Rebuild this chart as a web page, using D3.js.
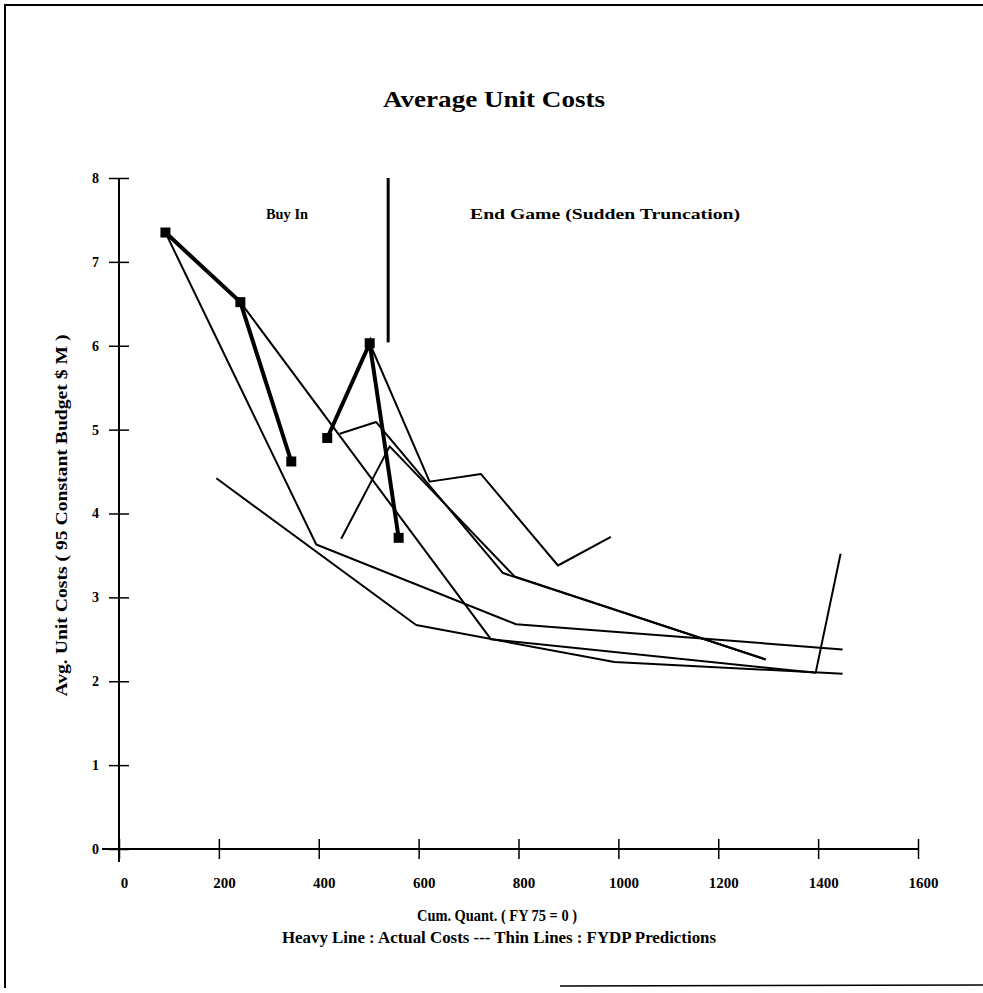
<!DOCTYPE html>
<html>
<head>
<meta charset="utf-8">
<script src="https://cdn.jsdelivr.net/npm/d3@7"></script>
<style>
  body { margin: 0; background: #fff; }
  svg { display: block; }
  text { font-family: "Liberation Serif", "DejaVu Serif", serif; font-weight: bold; fill: #000; }
</style>
</head>
<body>
<svg width="983" height="993"></svg>
<script>
// actual costs (heavy lines), cum. quantity vs avg unit cost
const actualA = [[93, 7.35], [243, 6.52], [345, 4.62]]
const actualB = [[417, 4.90], [502, 6.03], [560, 3.71]]

// FYDP predictions (thin lines)
const fydp1 = [[93, 7.35], [395, 3.63], [795, 2.68], [1449, 2.38]]
const fydp2 = [[93, 7.35], [243, 6.52], [745, 2.50], [1395, 2.10], [1445, 3.52]]
const fydp3 = [[195, 4.42], [595, 2.67], [992, 2.23], [1449, 2.09]]
const fydp4 = [[502, 6.03], [622, 4.38], [725, 4.47], [879, 3.38], [985, 3.72]]
const fydp5 = [[442, 4.95], [515, 5.09], [769, 3.29], [1295, 2.26]]
const fydp6 = [[445, 3.70], [542, 4.80], [792, 3.25], [1295, 2.26]]
const predictions = [fydp1, fydp2, fydp3, fydp4, fydp5, fydp6]

const xTicks = [0, 200, 400, 600, 800, 1000, 1200, 1400, 1600]
const yTicks = [0, 1, 2, 3, 4, 5, 6, 7, 8]
const divider = [[539, 8], [539, 6.04]]

const svg = d3.select("svg")

const x = d3.scaleLinear().domain([0, 1600]).range([119, 918])
const y = d3.scaleLinear().domain([0, 8]).range([849, 178])

// page frame (scanned page edge)
svg.append("path")
    .attr("d", "M5,988 L5,5 L983,5")
    .attr("fill", "none").attr("stroke", "#000").attr("stroke-width", 2)
svg.append("line")
    .attr("x1", 560).attr("x2", 983).attr("y1", 986).attr("y2", 985)
    .attr("stroke", "#000").attr("stroke-width", 1.5)

// title
svg.append("text")
    .attr("x", 494).attr("y", 107)
    .attr("text-anchor", "middle")
    .attr("font-size", 24)
    .attr("textLength", 222)
    .attr("lengthAdjust", "spacingAndGlyphs")
    .text("Average Unit Costs")

// axes
const xAxis = svg.append("g")
    .attr("transform", `translate(0,${y(0)})`)
    .call(d3.axisBottom(x).tickValues(xTicks).tickFormat(d3.format("d")).tickSize(10).tickPadding(18))
xAxis.select(".domain").remove()
xAxis.selectAll(".tick line").attr("y1", -10).attr("y2", 10).attr("stroke-width", 1.5)
xAxis.selectAll(".tick text")
    .attr("dx", 5)
    .attr("font-size", 15)
    .attr("font-family", "Liberation Serif")
    .attr("font-weight", "bold")
xAxis.append("line")
    .attr("x1", x(0) - 17).attr("x2", x(1600))
    .attr("stroke", "#000").attr("stroke-width", 2)

const yAxis = svg.append("g")
    .attr("transform", `translate(${x(0)},0)`)
    .call(d3.axisLeft(y).tickValues(yTicks).tickSize(10).tickPadding(10))
yAxis.select(".domain").remove()
yAxis.selectAll(".tick line").attr("x1", -10).attr("x2", 10).attr("stroke-width", 1.5)
yAxis.selectAll(".tick text")
    .attr("font-size", 14)
    .attr("font-family", "Liberation Serif")
    .attr("font-weight", "bold")
yAxis.append("line")
    .attr("y1", y(8)).attr("y2", y(0) + 13)
    .attr("stroke", "#000").attr("stroke-width", 2)

// axis titles
svg.append("text")
    .attr("transform", `translate(67,${(y(8) + y(0)) / 2 + 2}) rotate(-90)`)
    .attr("text-anchor", "middle")
    .attr("font-size", 16)
    .attr("textLength", 362)
    .attr("lengthAdjust", "spacingAndGlyphs")
    .text("Avg. Unit Costs ( 95 Constant Budget $ M )")

svg.append("text")
    .attr("x", 497).attr("y", 921)
    .attr("text-anchor", "middle")
    .attr("font-size", 16)
    .attr("textLength", 160)
    .attr("lengthAdjust", "spacingAndGlyphs")
    .text("Cum. Quant. ( FY 75 = 0 )")

svg.append("text")
    .attr("x", 499).attr("y", 943)
    .attr("text-anchor", "middle")
    .attr("font-size", 16)
    .attr("textLength", 434)
    .attr("lengthAdjust", "spacingAndGlyphs")
    .text("Heavy Line : Actual Costs --- Thin Lines : FYDP Predictions")

// annotations
svg.append("text")
    .attr("x", 266).attr("y", 219)
    .attr("font-size", 15)
    .attr("textLength", 42)
    .attr("lengthAdjust", "spacingAndGlyphs")
    .text("Buy In")
svg.append("text")
    .attr("x", 470).attr("y", 219)
    .attr("font-size", 15)
    .attr("textLength", 270)
    .attr("lengthAdjust", "spacingAndGlyphs")
    .text("End Game (Sudden Truncation)")

const line = d3.line().x(d => x(d[0])).y(d => y(d[1]))

svg.append("path")
    .datum(divider)
    .attr("d", line)
    .attr("stroke", "#000").attr("stroke-width", 3).attr("fill", "none")

// thin prediction lines
svg.selectAll(".fydp")
    .data(predictions).enter()
    .append("path")
    .attr("class", "fydp")
    .attr("d", line)
    .attr("fill", "none")
    .attr("stroke", "#000")
    .attr("stroke-width", 2)
    .attr("stroke-linejoin", "round")

// heavy actual lines with square markers
const actual = [actualA, actualB]
svg.selectAll(".actual")
    .data(actual).enter()
    .append("path")
    .attr("class", "actual")
    .attr("d", line)
    .attr("fill", "none")
    .attr("stroke", "#000")
    .attr("stroke-width", 4)

svg.selectAll(".mark")
    .data(actual.flat()).enter()
    .append("rect")
    .attr("class", "mark")
    .attr("x", d => x(d[0]) - 5)
    .attr("y", d => y(d[1]) - 5)
    .attr("width", 10)
    .attr("height", 10)
    .attr("fill", "#000")
</script>
</body>
</html>
